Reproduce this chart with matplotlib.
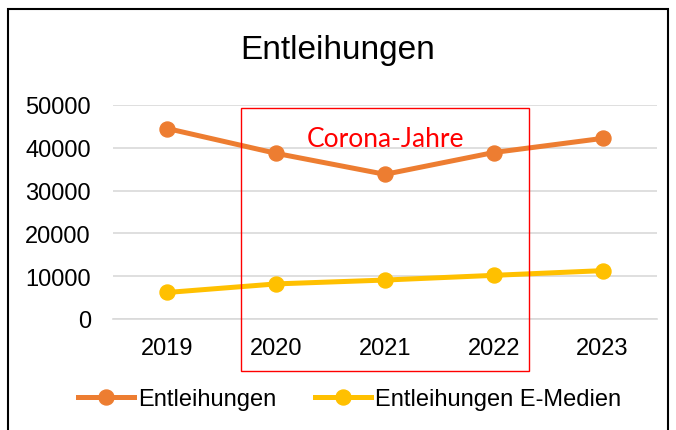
import matplotlib
matplotlib.use("Agg")
import matplotlib.pyplot as plt
from matplotlib.patches import Rectangle
from matplotlib.lines import Line2D

years = ["2019", "2020", "2021", "2022", "2023"]
entleihungen = [44500, 38700, 33800, 38900, 42200]
e_medien = [6200, 8200, 9100, 10200, 11300]
y_ticks = [0, 10000, 20000, 30000, 40000, 50000]

orange = "#ED7D31"
yellow = "#FFC000"

plt.rcParams["font.family"] = ["Liberation Sans", "DejaVu Sans"]

fig = plt.figure(figsize=(6.76, 4.31), dpi=100)
ax = fig.add_axes([113 / 676, 111 / 431, 544 / 676, 214 / 431])

x = range(len(years))
ax.plot(x, entleihungen, color=orange, lw=3.6, marker="o", ms=10.8, zorder=3)
ax.plot(x, e_medien, color=yellow, lw=3.6, marker="o", ms=10.8, zorder=3)

ax.set_xlim(-0.5, len(years) - 0.5)
ax.set_ylim(0, 50000)
ax.set_xticks(list(x))
ax.set_xticklabels(years)
ax.set_yticks(y_ticks)
ax.set_yticklabels([str(v) for v in y_ticks])
ax.tick_params(length=0, labelsize=17, colors="black")
ax.tick_params(axis="y", pad=16)
ax.tick_params(axis="x", pad=13)
ax.grid(axis="y", color="#d9d9d9", lw=1.2)
ax.set_axisbelow(True)
for s in ["top", "right", "left"]:
    ax.spines[s].set_visible(False)
ax.spines["bottom"].set_color("#d9d9d9")
ax.spines["bottom"].set_linewidth(1.2)

# red box marking the corona years
tr = ax.get_xaxis_transform()
ax.add_patch(Rectangle((0.68, -0.243), 2.64, 1.229, transform=tr, fill=False,
                       edgecolor="red", lw=1.0, clip_on=False, zorder=4))
ax.text(2, 0.845, "Corona-Jahre", transform=tr, color="red", fontsize=19,
        family=["Lato", "DejaVu Sans"], ha="center", va="center")

fig.text(0.5, 1 - 50 / 431, "Entleihungen", fontsize=24, ha="center", va="center")

# chart border
fig.patches.append(Rectangle((7.5 / 676, -0.1), (668 - 7.5) / 676, 1.1 - 9.5 / 431,
                             transform=fig.transFigure, fill=False,
                             edgecolor="black", lw=1.5))

handles = [Line2D([], [], color=orange, lw=3.6, marker="o", ms=10.8),
           Line2D([], [], color=yellow, lw=3.6, marker="o", ms=10.8)]
fig.legend(handles, ["Entleihungen", "Entleihungen E-Medien"], ncol=2,
           loc="center", bbox_to_anchor=(349.5 / 676, 1 - 400 / 431),
           frameon=False, fontsize=17, handlelength=2.37, handletextpad=0.15,
           columnspacing=1.65)

fig.savefig("out.png", dpi=100)
